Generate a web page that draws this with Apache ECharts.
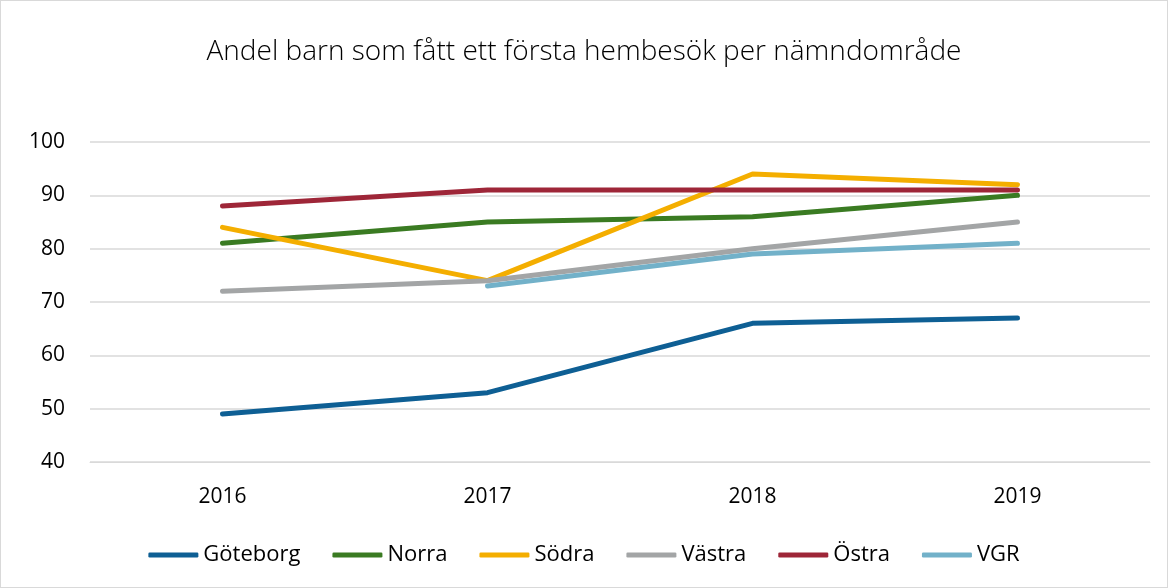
<!DOCTYPE html>
<html>
<head>
<meta charset="utf-8">
<script src="https://cdn.jsdelivr.net/npm/echarts@6/dist/echarts.min.js"></script>
<style>
  html, body { margin: 0; padding: 0; background: #fff; }
  #chart { width: 1168px; height: 588px; box-sizing: border-box; border: 1px solid #d9d9d9; }
</style>
</head>
<body>
<div id="chart"></div>
<script>
var years = ["2016", "2017", "2018", "2019"];
var goteborg = [49, 53, 66, 67];
var norra = [81, 85, 86, 90];
var sodra = [84, 74, 94, 92];
var vastra = [72, 74, 80, 85];
var ostra = [88, 91, 91, 91];
var vgr = [null, 73, 79, 81];

var chart = echarts.init(document.getElementById("chart"));

function line(name, data, color) {
  return {
    name: name,
    type: "line",
    data: data,
    symbol: "none",
    lineStyle: { width: 5, color: color, cap: "round" },
    itemStyle: { color: color }
  };
}

var option = {
  backgroundColor: "#fff",
  animation: false,
  textStyle: { fontFamily: "Open Sans" },
  title: {
    text: "Andel barn som fått ett första hembesök per nämndområde",
    left: "center",
    top: 32,
    textStyle: { fontSize: 28, fontWeight: 300, color: "#000", fontFamily: "Open Sans" }
  },
  legend: {
    bottom: 16,
    left: "center",
    itemWidth: 50,
    itemHeight: 5,
    itemGap: 32,
    icon: "roundRect",
    textStyle: { fontSize: 22, color: "#000", fontFamily: "Open Sans" },
    data: ["Göteborg", "Norra", "Södra", "Västra", "Östra", "VGR"]
  },
  grid: { left: 89, right: 17, top: 141, bottom: 125 },
  xAxis: {
    type: "category",
    data: years,
    boundaryGap: true,
    axisLine: { lineStyle: { color: "#d9d9d9" } },
    axisTick: { show: false },
    axisLabel: { fontSize: 21, color: "#000", margin: 25 }
  },
  yAxis: {
    type: "value",
    min: 40,
    max: 100,
    interval: 10,
    axisLine: { show: false },
    axisTick: { show: false },
    axisLabel: { fontSize: 21, color: "#000", margin: 25 },
    splitLine: { lineStyle: { color: "#d9d9d9", width: 1.5 } }
  },
  series: [
    line("Göteborg", goteborg, "#0e5f94"),
    line("Norra", norra, "#3a7b22"),
    line("Södra", sodra, "#f4ae00"),
    line("Västra", vastra, "#a3a5a6"),
    line("Östra", ostra, "#9e2638"),
    line("VGR", vgr, "#72b1c9")
  ]
};
chart.setOption(option);
</script>
</body>
</html>
